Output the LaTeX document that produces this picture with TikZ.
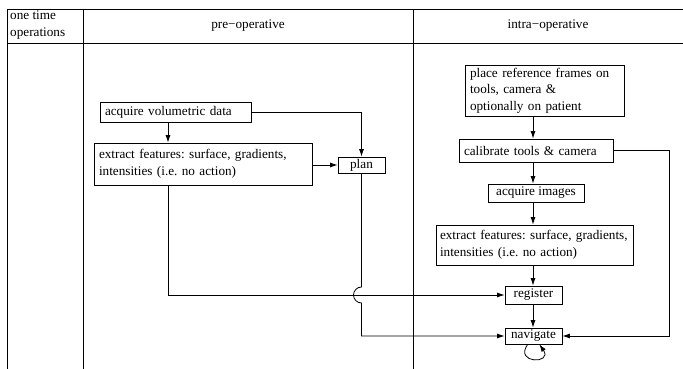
\documentclass[tikz,border=0pt]{standalone}
\usepackage{fontspec}
\setmainfont{Liberation Serif}
\usetikzlibrary{calc,arrows.meta}
\newcommand{\boxfont}{\fontsize{13.2}{16.5}\selectfont\frenchspacing\hyphenpenalty=10000\relax}
\tikzset{
	box/.style={draw, line width=0.8pt, inner xsep=5pt, inner ysep=2pt, align=left, font=\boxfont},
	cbox/.style={box, align=center},
	arr/.style={line width=0.8pt, -{Latex[length=7.5pt,width=5pt]}},
	grid/.style={line width=0.8pt}
}

\begin{document}
\begin{tikzpicture}[x=1pt,y=1pt]
			%%%%% START %%%%%
			\useasboundingbox (0, 0) rectangle (683, 369);
			
			% table
			\draw[grid] (7, 360) -- (683, 360);
			\draw[grid] (7, 326) -- (683, 326);
			\draw[grid] (7, 360) -- (7, 0);
			\draw[grid] (83, 360) -- (83, 0);
			\draw[grid] (413, 360) -- (413, 0);
			\node[font=\boxfont, align=left, anchor=north west, inner sep=0pt] (once) at (10, 358) {one time\\operations};
			\node[font=\boxfont] (pre) at (248, 343) {pre−operative};
			\node[font=\boxfont] (intra) at (548, 343) {intra−operative};
			
			\coordinate (lx) at (168, 0);
			\coordinate (rx) at (533, 0);
			\coordinate (rr) at (669, 0);
			
			% pre-operative
			\node[box, text width=141pt, minimum height=20pt] (vol) at (175.5, 257) {acquire volumetric data};
			\node[box, text width=208pt, minimum height=42pt] (featpre) at (203, 205) {extract features: surface, gradients,\\intensities (i.e. no action)};
			\node[cbox, minimum width=47pt, minimum height=16pt] (plan) at (361.5, 204) {plan};
			
			% intra-operative
			\node[box, text width=149pt, minimum height=51pt] (frames) at (544.5, 278.5) {place reference frames on\\tools, camera \&\\optionally on patient};
			\node[box, text width=144pt, minimum height=23pt] (calib) at (536, 218.5) {calibrate tools \& camera};
			\node[cbox, minimum width=96pt, minimum height=18pt] (images) at (536, 176) {acquire images};
			\node[box, inner xsep=4pt, text width=189pt, minimum height=40pt] (featintra) at (534.5, 124) {extract features: surface, gradients,\\intensities (i.e. no action)};
			\node[cbox, minimum width=57pt, minimum height=18pt] (reg) at (533.5, 74) {register};
			\node[cbox, minimum width=57pt, minimum height=16pt] (nav) at (533.5, 33) {navigate};
			
			% connectors
			\draw[arr] (vol.south -| lx) -- (featpre.north -| lx);
			\draw[arr] (vol.east) -| (plan.north);
			\draw[arr] (featpre.east |- plan.west) -- (plan.west);
			\draw[arr] (featpre.south -| lx) |- (reg.west);
			\draw[arr] (plan.south) -- ($(plan.south |- reg.west)+(0,8)$) arc (90:270:8) |- (nav.west);
			
			\draw[arr] (frames.south -| rx) -- (calib.north -| rx);
			\draw[arr] (calib.south -| rx) -- (images.north -| rx);
			\draw[arr] (images.south -| rx) -- (featintra.north -| rx);
			\draw[arr] (featintra.south -| rx) -- (reg.north -| rx);
			\draw[arr] (reg.south -| rx) -- (nav.north -| rx);
			\draw[arr] (calib.east) -- (calib.east -| rr) |- (nav.east);
			\draw[arr] (nav.-125) to[out=-125, in=-55, min distance=24pt] (nav.-55);
			%%%%% END %%%%%
\end{tikzpicture}
\end{document}
